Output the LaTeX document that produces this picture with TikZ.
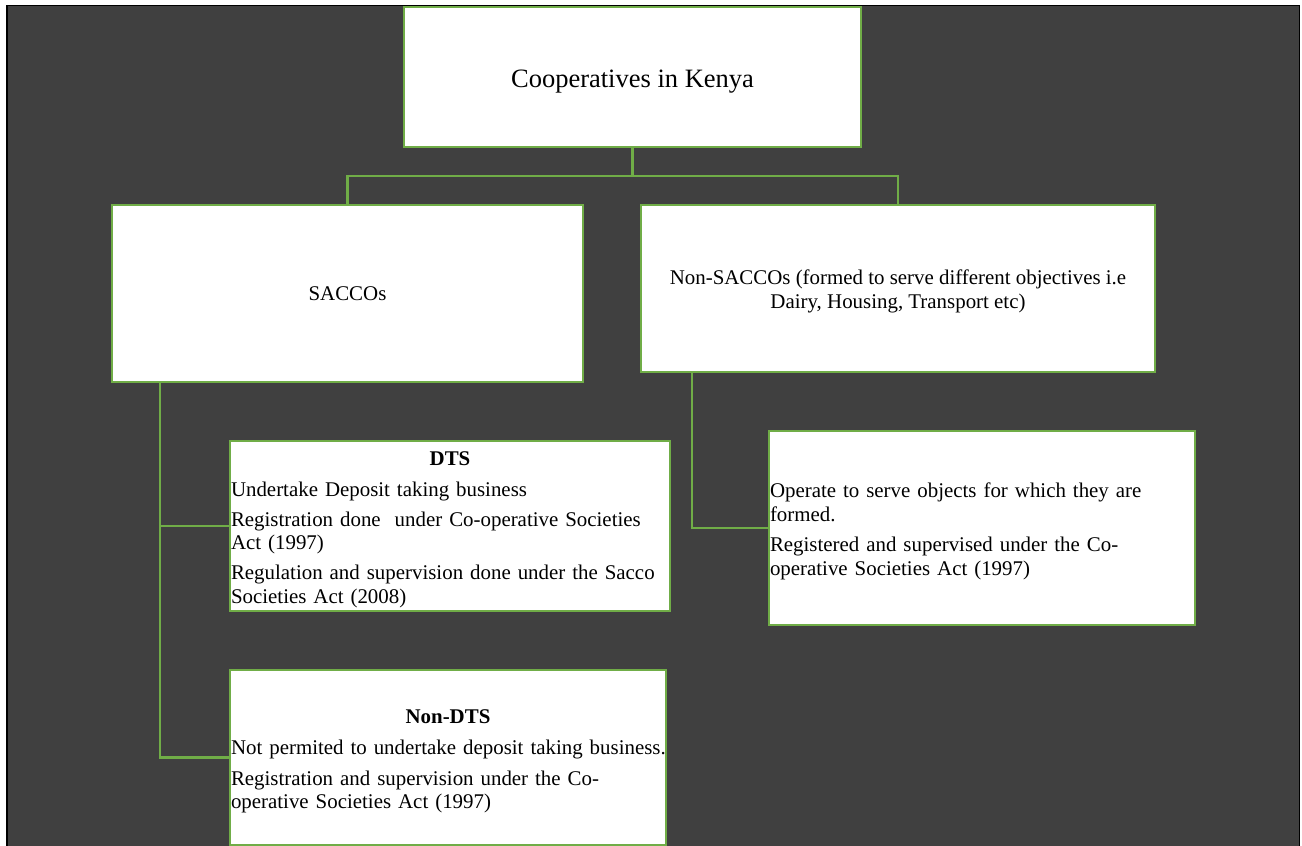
\documentclass[tikz,border=0pt]{standalone}
\usepackage{fontspec}
\setmainfont{Liberation Serif}
\definecolor{bgdark}{HTML}{404040}
\definecolor{grn}{HTML}{70AD47}
\newcommand\firstlinestrut{\rule{0pt}{21pt}}
\begin{document}
\begin{tikzpicture}[x=1pt,y=-1pt,
  box/.style={draw=grn, line width=2.8pt, fill=white, inner sep=0pt, outer sep=0pt, text=black},
  link/.style={draw=grn, line width=2.6pt},
  body/.style={font=\fontsize{20.9}{23.5}\selectfont}]
\useasboundingbox (0,0) rectangle (1302,846);
\fill[white] (0,0) rectangle (1302,846);
\draw[black, line width=1.6pt, fill=bgdark] (7,5.5) rectangle (1299.5,870);

\node[box, minimum width=457pt, minimum height=140pt, font=\fontsize{26.5}{30}\selectfont, text height=26pt, text depth=6pt] (top) at (632.5,77) {Cooperatives in Kenya};

\node[box, body, minimum width=471pt, minimum height=177pt] (sacco) at (347.5,293.5) {SACCOs};

\node[box, body, minimum width=514pt, minimum height=167pt, align=center] (nonsacco) at (898,288.5)
  {\firstlinestrut Non-SACCOs (formed to serve different objectives i.e\\ Dairy, Housing, Transport etc)};

\node[box, body, minimum width=440pt, minimum height=170pt, text width=438pt, align=left] (dts) at (450,526)
  {\makebox[\linewidth]{\firstlinestrut\bfseries DTS}\\[7.5pt]
   \mbox{Undertake Deposit taking business}\\[6.5pt]
   \mbox{Registration done\ \ under Co-operative Societies}\\
   \mbox{Act (1997)}\\[6.5pt]
   \mbox{Regulation and supervision done under the Sacco}\\
   \mbox{Societies Act (2008)}};

\node[box, body, minimum width=436pt, minimum height=175pt, text width=434pt, align=left] (nondts) at (448,757.5)
  {\makebox[\linewidth]{\firstlinestrut\bfseries Non-DTS}\\[8pt]
   \mbox{Not permited to undertake deposit taking business.}\\[7pt]
   \mbox{Registration and supervision under the Co-}\\
   \mbox{operative Societies Act (1997)}};

\node[box, body, minimum width=426pt, minimum height=194pt, text width=424pt, align=left] (obj) at (982,528)
  {\mbox{\firstlinestrut Operate to serve objects for which they are}\\
   \mbox{formed.}\\[7pt]
   \mbox{Registered and supervised under the Co-}\\
   \mbox{operative Societies Act (1997)}};

\draw[link] (top.south) -- ++(0,29) -| (sacco.north);
\draw[link] (top.south) -- ++(0,29) -| (nonsacco.north);
\draw[link] ([xshift=48pt]sacco.south west) |- (dts.west);
\draw[link] ([xshift=48pt]sacco.south west) |- (nondts.west);
\draw[link] ([xshift=51pt]nonsacco.south west) |- (obj.west);
\end{tikzpicture}
\end{document}
